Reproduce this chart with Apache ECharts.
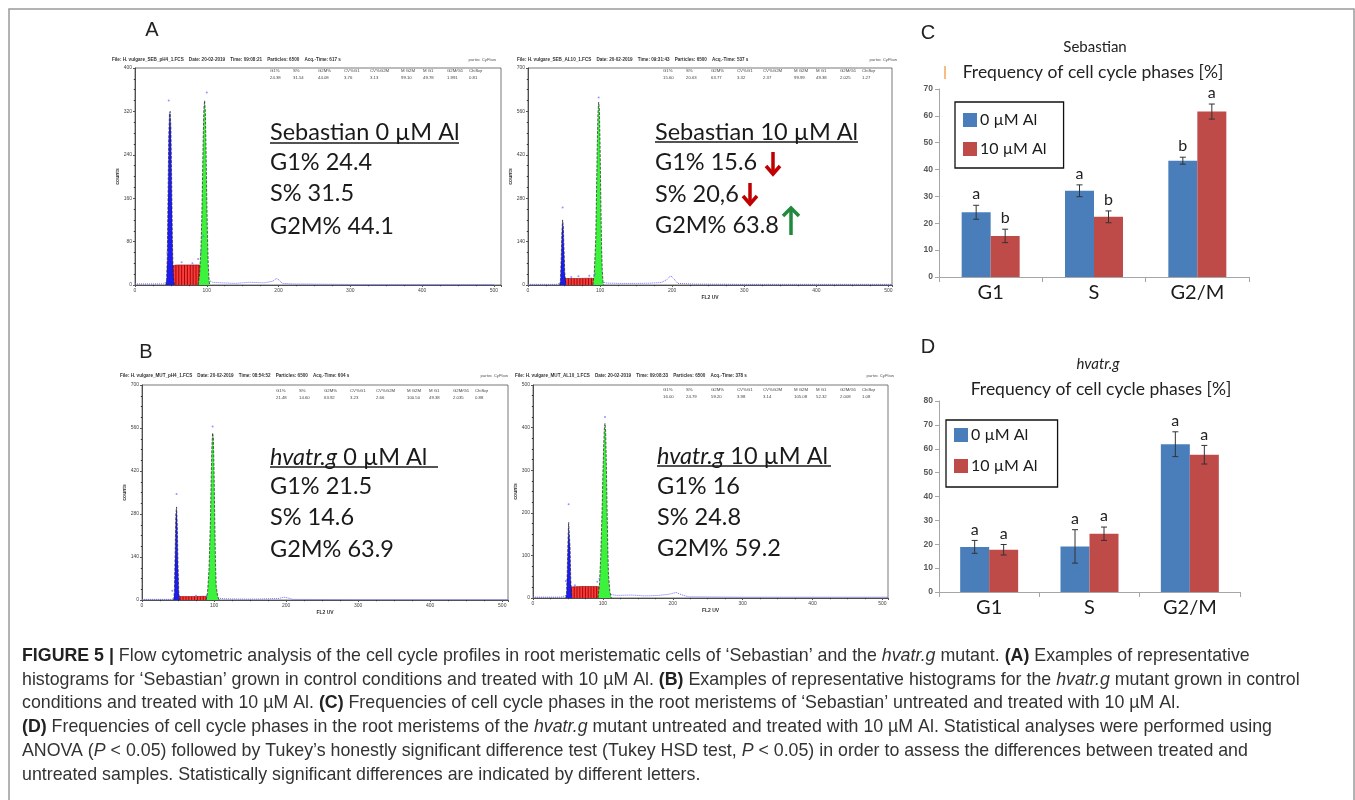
<!DOCTYPE html>
<html><head><meta charset="utf-8">
<script src="https://cdn.jsdelivr.net/npm/echarts@6/dist/echarts.min.js"></script>
<style>html,body{margin:0;padding:0;background:#fff}#c{width:1355px;height:800px}</style>
</head><body><div id="c"></div>
<script>
// ================= DATA =================
// Bar charts (C: Sebastian, D: hvatr.g)
const phaseCategories = ['G1', 'S', 'G2/M'];
const seriesNames = ['0 µM Al', '10 µM Al'];
const sebControl = [24.1, 32.1, 43.3];
const sebControlErr = [2.6, 2.2, 1.3];
const sebAl = [15.3, 22.4, 61.6];
const sebAlErr = [2.5, 2.2, 2.8];
const sebControlLetters = ['a', 'a', 'b'];
const sebAlLetters = ['b', 'b', 'a'];
const mutControl = [18.9, 19.1, 61.9];
const mutControlErr = [2.7, 7.0, 5.2];
const mutAl = [17.7, 24.4, 57.5];
const mutAlErr = [2.2, 2.8, 3.9];
const mutControlLetters = ['a', 'a', 'a'];
const mutAlLetters = ['a', 'a', 'a'];

// Histograms: [channel, counts]
const g1A1 = [[43,0],[44,10],[45,50],[46,160],[47,270],[48,315],[49,320],[50,290],[51,200],[52,90],[53,30],[54,8],[55,0]];
const g2A1 = [[88,0],[90,20],[92,70],[93,120],[94,190],[95,270],[96,325],[97,340],[98,320],[99,250],[100,160],[101,90],[102,40],[103,14],[104,0]];
const sA1 = [[48,0],[50,30],[52,36],[60,37],[70,37],[80,37],[90,37],[93,33],[96,22],[99,8],[101,0]];
const hatchA1 = [[53,36],[57,37],[61,37],[65,37],[69,37],[73,37],[77,37],[81,37],[85,37],[89,37],[93,33],[97,18]];
const rawA1 = [[0,2],[20,2],[40,2],[43,6],[104,8],[108,5],[120,4],[140,3],[160,5],[180,4],[192,7],[197,12],[201,9],[205,3],[220,2],[300,1],[400,1],[500,1]];
const dotsA1 = [[47,340],[100,355],[45,60],[92,60],[88,48],[95,90],[65,42],[80,40]];

const g1A2 = [[44,0],[45,15],[46,80],[47,170],[48,210],[49,190],[50,110],[51,40],[52,12],[53,0]];
const g2A2 = [[90,0],[92,40],[94,150],[95,290],[96,440],[97,550],[98,590],[99,570],[100,450],[101,280],[102,130],[103,50],[104,12],[105,0]];
const sA2 = [[47,0],[49,18],[52,21],[70,21],[88,22],[92,20],[95,14],[98,5],[100,0]];
const hatchA2 = [[52,21],[56,21],[60,21],[64,21],[68,21],[72,21],[76,21],[80,21],[84,22],[88,22],[92,20],[96,10]];
const rawA2 = [[0,2],[40,2],[44,5],[104,9],[110,6],[130,5],[150,5],[170,6],[185,8],[193,18],[198,30],[203,18],[208,5],[230,3],[300,2],[400,2],[505,2]];
const dotsA2 = [[48,250],[98,605],[93,35],[70,28],[60,26],[85,30]];

const g1B1 = [[44,0],[45,30],[46,150],[47,280],[48,303],[49,240],[50,110],[51,30],[52,0]];
const g2B1 = [[89,0],[91,25],[93,100],[95,260],[96,390],[97,500],[98,544],[99,530],[100,420],[101,260],[102,120],[103,45],[105,12],[107,0]];
const sB1 = [[47,0],[49,10],[52,11],[70,11],[88,12],[93,10],[96,4],[98,0]];
const hatchB1 = [[53,11],[57,11],[61,11],[65,11],[69,11],[73,11],[77,11],[81,11],[85,12],[89,12],[93,10]];
const rawB1 = [[0,2],[40,2],[44,4],[106,6],[115,4],[140,3],[160,3],[190,5],[197,9],[202,7],[210,2],[300,1],[400,1],[508,1]];
const dotsB1 = [[48,345],[98,565],[42,30],[90,15],[75,14]];

const g1B2 = [[47,0],[48,12],[49,60],[50,130],[51,178],[52,175],[53,120],[54,45],[55,12],[56,0]];
const g2B2 = [[93,0],[95,30],[97,100],[99,215],[100,290],[101,350],[102,395],[103,410],[104,390],[105,310],[106,210],[107,120],[108,55],[110,15],[112,0]];
const sB2 = [[49,0],[51,22],[54,26],[70,27],[90,27],[98,26],[102,20],[106,8],[109,0]];
const hatchB2 = [[55,26],[59,27],[63,27],[67,27],[71,27],[75,27],[79,27],[83,27],[87,27],[91,27],[95,26],[99,24],[103,16]];
const rawB2 = [[0,2],[40,2],[47,6],[112,8],[120,6],[140,7],[160,5],[180,6],[195,9],[205,13],[212,8],[222,3],[300,2],[400,2],[508,2]];
const dotsB2 = [[51,220],[103,425],[47,40],[95,45],[92,38],[60,30]];

// Histogram axis tick settings
const histYMax = [400, 700, 700, 500];
const histYStep = [80, 140, 140, 100];
const histXMax = [510, 505, 508, 508];

// Histogram header / stats texts
const histFiles = [
  'File: H. vulgare_SEB_pH4_1.FCS    Date: 20-02-2019    Time: 09:08:21    Particles: 6500    Acq.-Time: 617 s',
  'File: H. vulgare_SEB_AL10_1.FCS    Date: 20-02-2019    Time: 09:31:43    Particles: 6500    Acq.-Time: 537 s',
  'File: H. vulgare_MUT_pH4_1.FCS    Date: 20-02-2019    Time: 08:54:52    Particles: 6500    Acq.-Time: 604 s',
  'File: H. vulgare_MUT_AL10_1.FCS    Date: 20-02-2019    Time: 09:08:33    Particles: 6500    Acq.-Time: 378 s'
];
const statHeaders = ['G1%', 'S%', 'G2M%', 'CV%G1', 'CV%G2M', 'M G2M', 'M G1', 'G2M/G1', 'ChiSqr'];
const statsA1 = ['24.38', '31.54', '44.08', '3.76', '3.13', '99.10', '49.78', '1.991', '0.81'];
const statsA2 = ['15.60', '20.63', '63.77', '3.32', '2.37', '99.99', '49.38', '2.025', '1.27'];
const statsB1 = ['21.48', '14.60', '63.92', '3.23', '2.66', '100.50', '49.38', '2.035', '0.88'];
const statsB2 = ['16.00', '24.79', '59.20', '3.98', '3.14', '105.08', '52.32', '2.008', '1.08'];

// Overlay texts on histograms
const histTitleLabels = ['Sebastian 0 µM Al', 'Sebastian 10 µM Al', ' 0 µM Al', ' 10 µM Al'];
const histLinesA1 = ['G1% 24.4', 'S% 31.5', 'G2M% 44.1'];
const histLinesA2 = ['G1% 15.6', 'S% 20,6', 'G2M% 63.8'];
const histLinesB1 = ['G1% 21.5', 'S% 14.6', 'G2M% 63.9'];
const histLinesB2 = ['G1% 16', 'S% 24.8', 'G2M% 59.2'];

const captionLines = [
  '{b|FIGURE 5 |} Flow cytometric analysis of the cell cycle profiles in root meristematic cells of ‘Sebastian’ and the {i|hvatr.g} mutant. {b|(A)} Examples of representative',
  'histograms for ‘Sebastian’ grown in control conditions and treated with 10 µM Al. {b|(B)} Examples of representative histograms for the {i|hvatr.g} mutant grown in control',
  'conditions and treated with 10 µM Al. {b|(C)} Frequencies of cell cycle phases in the root meristems of ‘Sebastian’ untreated and treated with 10 µM Al.',
  '{b|(D)} Frequencies of cell cycle phases in the root meristems of the {i|hvatr.g} mutant untreated and treated with 10 µM Al. Statistical analyses were performed using',
  'ANOVA ({i|P} < 0.05) followed by Tukey’s honestly significant difference test (Tukey HSD test, {i|P} < 0.05) in order to assess the differences between treated and',
  'untreated samples. Statistically significant differences are indicated by different letters.'
];

// ================= BUILD =================
const BLUE = '#4a7ebb', RED = '#be4b48';
const histGrids = [
  {left: 135, top: 68, width: 366, height: 217},
  {left: 528, top: 68, width: 364, height: 217},
  {left: 142, top: 385, width: 366, height: 215},
  {left: 533, top: 385, width: 355, height: 213}
];
const barGrids = [
  {left: 939, top: 89, width: 310, height: 188},
  {left: 939, top: 401, width: 301, height: 191}
];
const grid = [];
histGrids.forEach(g => grid.push(Object.assign({show: true, borderColor: '#555', borderWidth: 0.8, backgroundColor: '#fff'}, g)));
barGrids.forEach(g => grid.push(Object.assign({show: false}, g)));

const xAxis = [], yAxis = [], series = [];
const xNames = ['', 'FL2 UV', 'FL2 UV', 'FL2 UV'];
for (let k = 0; k < 4; k++) {
  xAxis.push({type: 'value', gridIndex: k, min: 0, max: histXMax[k], interval: 100,
    name: xNames[k], nameLocation: 'middle', nameGap: 10, nameTextStyle: {fontSize: 5, fontWeight: 'bold', color: '#333'},
    axisLine: {lineStyle: {color: '#333', width: 0.8}}, axisTick: {show: true, length: 2, lineStyle: {color: '#555'}},
    minorTick: {show: true, splitNumber: 4, length: 1.2}, splitLine: {show: false},
    axisLabel: {fontSize: 5, color: '#444', margin: 3, showMaxLabel: true,
      formatter: v => (v % 100 === 0 && v <= 500) ? String(v) : ''}});
  yAxis.push({type: 'value', gridIndex: k, min: 0, max: histYMax[k], interval: histYStep[k],
    name: 'counts', nameLocation: 'middle', nameGap: 15, nameRotate: 90, nameTextStyle: {fontSize: 5, fontWeight: 'bold', color: '#333'},
    axisLine: {show: true, lineStyle: {color: '#333', width: 0.8}}, axisTick: {show: true, length: 2, lineStyle: {color: '#555'}},
    minorTick: {show: true, splitNumber: 4, length: 1.2}, splitLine: {show: false},
    axisLabel: {fontSize: 5, color: '#444', margin: 3, showMaxLabel: true}});
}
[[70, 10], [80, 10]].forEach((m, j) => {
  xAxis.push({type: 'category', gridIndex: 4 + j, data: phaseCategories,
    axisLine: {lineStyle: {color: '#a6a6a6', width: 1}}, axisTick: {show: true, length: 5, lineStyle: {color: '#a6a6a6'}},
    axisLabel: {fontSize: 20, color: '#1a1a1a', margin: 6, fontFamily: 'Lato'}});
  yAxis.push({type: 'value', gridIndex: 4 + j, min: 0, max: m[0], interval: m[1],
    axisLine: {show: true, lineStyle: {color: '#a6a6a6', width: 1}}, axisTick: {show: true, length: 4, lineStyle: {color: '#a6a6a6'}},
    splitLine: {show: false},
    axisLabel: {fontSize: 8.5, color: '#595959', fontWeight: 'bold', margin: 6, fontFamily: 'Liberation Sans'}});
});

const histSets = [
  [g1A1, g2A1, sA1, hatchA1, rawA1, dotsA1],
  [g1A2, g2A2, sA2, hatchA2, rawA2, dotsA2],
  [g1B1, g2B1, sB1, hatchB1, rawB1, dotsB1],
  [g1B2, g2B2, sB2, hatchB2, rawB2, dotsB2]
];
histSets.forEach((s, k) => {
  const base = {xAxisIndex: k, yAxisIndex: k, silent: true, animation: false};
  series.push(Object.assign({type: 'line', data: s[4], symbol: 'none', z: 1,
    lineStyle: {color: '#6b6bff', width: 1, type: 'dotted'}}, base));
  series.push(Object.assign({type: 'line', data: s[2], symbol: 'none', z: 2,
    lineStyle: {color: '#8a1010', width: 0.6}, areaStyle: {color: '#ff3a3a', opacity: 1}}, base));
  series.push(Object.assign({type: 'bar', data: s[3], barWidth: 1, z: 3,
    itemStyle: {color: '#9a0d0d'}}, base));
  series.push(Object.assign({type: 'line', data: s[0], symbol: 'none', z: 4,
    lineStyle: {color: '#222', width: 0.7, type: 'dashed'}, areaStyle: {color: '#1c1cf0', opacity: 1}}, base));
  series.push(Object.assign({type: 'line', data: s[1], symbol: 'none', z: 4,
    lineStyle: {color: '#222', width: 0.7, type: 'dashed'}, areaStyle: {color: '#3df23d', opacity: 1}}, base));
  series.push(Object.assign({type: 'scatter', data: s[5], symbolSize: 2, z: 5,
    itemStyle: {color: '#7a7aff'}}, base));
});

function errSeries(gi, vals, errs, letters, side) {
  return {
    type: 'custom', xAxisIndex: gi, yAxisIndex: gi, z: 10, silent: true, animation: false,
    data: vals.map((v, i) => [i, v, errs[i]]),
    renderItem: function (params, api) {
      const c = api.value(0), v = api.value(1), e = api.value(2);
      const top = api.coord([c, v + e]), bot = api.coord([c, v - e]);
      const x = top[0] + side * 14.5;
      const ls = {stroke: '#333', lineWidth: 1};
      return {type: 'group', children: [
        {type: 'line', shape: {x1: x, y1: top[1], x2: x, y2: bot[1]}, style: ls},
        {type: 'line', shape: {x1: x - 3, y1: top[1], x2: x + 3, y2: top[1]}, style: ls},
        {type: 'line', shape: {x1: x - 3, y1: bot[1], x2: x + 3, y2: bot[1]}, style: ls},
        {type: 'text', x: x, y: top[1] - 3, style: {text: letters[params.dataIndex], fontSize: 16, fontFamily: 'Lato',
          fill: '#222', textAlign: 'center', textVerticalAlign: 'bottom', align: 'center', verticalAlign: 'bottom'}}
      ]};
    }
  };
}
[[sebControl, sebAl, sebControlErr, sebAlErr, sebControlLetters, sebAlLetters],
 [mutControl, mutAl, mutControlErr, mutAlErr, mutControlLetters, mutAlLetters]].forEach((d, j) => {
  const gi = 4 + j;
  series.push({type: 'bar', name: seriesNames[0], xAxisIndex: gi, yAxisIndex: gi, data: d[0], barWidth: 29, barGap: '0%',
    itemStyle: {color: BLUE}, silent: true, animation: false});
  series.push({type: 'bar', name: seriesNames[1], xAxisIndex: gi, yAxisIndex: gi, data: d[1], barWidth: 29, barGap: '0%',
    itemStyle: {color: RED}, silent: true, animation: false});
  series.push(errSeries(gi, d[0], d[2], d[4], -1));
  series.push(errSeries(gi, d[1], d[3], d[5], 1));
});

// ---------- graphic elements ----------
const G = [];
function T(x, y, text, o) {
  o = o || {};
  const st = Object.assign({text: text, fontSize: 12, fontFamily: 'Liberation Sans', fill: '#222',
    textAlign: o.align || 'left', textVerticalAlign: o.va || 'middle', align: o.align || 'left', verticalAlign: o.va || 'middle'}, o.style || {});
  G.push({type: 'text', x: x, y: y, z: 50, silent: true, style: st});
}
function L(x1, y1, x2, y2, color, w) {
  G.push({type: 'line', z: 50, silent: true, shape: {x1: x1, y1: y1, x2: x2, y2: y2}, style: {stroke: color, lineWidth: w}});
}
function P(points, color, w) {
  G.push({type: 'polyline', z: 50, silent: true, shape: {points: points}, style: {stroke: color, lineWidth: w, fill: null, lineJoin: 'miter'}});
}
// frame
G.push({type: 'rect', z: 0, silent: true, shape: {x: 9, y: 9, width: 1345, height: 800}, style: {fill: 'none', stroke: '#9a9a9a', lineWidth: 1.5}});

// panel letters
T(152, 30, 'A', {align: 'center', style: {fontSize: 20}});
T(146, 352, 'B', {align: 'center', style: {fontSize: 20}});
T(928, 33, 'C', {align: 'center', style: {fontSize: 20}});
T(928, 347, 'D', {align: 'center', style: {fontSize: 20}});

// histogram headers
const headerPos = [[112, 60], [517, 60], [120, 376], [515, 376]];
headerPos.forEach((p, k) => {
  T(p[0], p[1], histFiles[k], {style: {fontSize: 4.6, fontWeight: 'bold', fill: '#333'}});
});
T(496, 60, 'partec CyFlow', {align: 'right', style: {fontSize: 4.3, fill: '#555'}});
T(897, 60, 'partec CyFlow', {align: 'right', style: {fontSize: 4.3, fill: '#555'}});
T(508, 376, 'partec CyFlow', {align: 'right', style: {fontSize: 4.3, fill: '#555'}});
T(894, 376, 'partec CyFlow', {align: 'right', style: {fontSize: 4.3, fill: '#555'}});
// stats
const statOffsets = [0, 23, 48, 74, 100, 131, 153, 177, 199];
const statPos = [[270, 71, statsA1], [663, 71, statsA2], [276, 391, statsB1], [663, 390, statsB2]];
statPos.forEach(sp => {
  statHeaders.forEach((h, i) => {
    T(sp[0] + statOffsets[i], sp[1], h, {style: {fontSize: 4.3, fill: '#444'}});
    T(sp[0] + statOffsets[i], sp[1] + 7, sp[2][i], {style: {fontSize: 4.3, fill: '#444'}});
  });
});

// overlay big texts
const BIG = {fontSize: 23.5, fontFamily: 'Lato', fill: '#1a1a1a'};
T(270, 132, histTitleLabels[0], {style: BIG}); L(270, 143, 459, 143, '#1a1a1a', 1.4);
histLinesA1.forEach((s, i) => T(270, [162, 193, 226][i], s, {style: BIG}));
T(655, 132, histTitleLabels[1], {style: BIG}); L(655, 142, 858, 142, '#1a1a1a', 1.4);
histLinesA2.forEach((s, i) => T(655, [162, 194, 225][i], s, {style: BIG}));
const RICHBIG = {i: {fontSize: 23.5, fontFamily: 'Lato', fontStyle: 'italic', fill: '#1a1a1a'}, n: {fontSize: 23.5, fontFamily: 'Lato', fill: '#1a1a1a'}};
T(270, 457, '{i|hvatr.g}{n|' + histTitleLabels[2] + '}', {style: Object.assign({}, BIG, {rich: RICHBIG})}); L(270, 467, 438, 467, '#1a1a1a', 1.4);
histLinesB1.forEach((s, i) => T(270, [486, 517, 549][i], s, {style: BIG}));
T(657, 456, '{i|hvatr.g}{n|' + histTitleLabels[3] + '}', {style: Object.assign({}, BIG, {rich: RICHBIG})}); L(657, 466, 831, 466, '#1a1a1a', 1.4);
histLinesB2.forEach((s, i) => T(657, [486, 517, 548][i], s, {style: BIG}));
// arrows
const AR = '#c00000', AG = '#1f8a3b';
L(773, 152, 773, 174, AR, 3.5); P([[766, 166], [773, 174], [780, 166]], AR, 3.5);
L(750, 183, 750, 204, AR, 3.5); P([[743, 196], [750, 204], [757, 196]], AR, 3.5);
L(791, 235, 791, 208, AG, 3.5); P([[783, 216], [791, 208], [799, 216]], AG, 3.5);

// bar chart titles
T(1095, 47, 'Sebastian', {align: 'center', style: {fontSize: 15, fontFamily: 'Lato', fill: '#222'}});
T(1093, 72, 'Frequency of cell cycle phases [%]', {align: 'center', style: {fontSize: 17.5, fontFamily: 'Lato', fill: '#222'}});
L(945, 66, 945, 79, '#f2a65a', 1.5);
T(1098, 364, 'hvatr.g', {align: 'center', style: {fontSize: 15, fontFamily: 'Lato', fontStyle: 'italic', fill: '#222'}});
T(1101, 389, 'Frequency of cell cycle phases [%]', {align: 'center', style: {fontSize: 17.5, fontFamily: 'Lato', fill: '#222'}});

// caption
const CF = 'Liberation Sans';
const CFS = 17.8;
const capRich = {
  b: {fontSize: CFS, fontFamily: CF, fontWeight: 'bold', fill: '#222'},
  i: {fontSize: CFS, fontFamily: CF, fontStyle: 'italic', fill: '#333'}
};
const capY = [656, 680, 703, 727, 751, 775];
captionLines.forEach((s, i) => {
  T(22, capY[i], s, {style: {fontSize: CFS, fontFamily: CF, fill: '#333', rich: capRich}});
});

const option = {
  animation: false,
  backgroundColor: '#fff',
  grid: grid,
  xAxis: xAxis,
  yAxis: yAxis,
  legend: [
    {data: seriesNames, left: 955, top: 102, orient: 'vertical', itemWidth: 14, itemHeight: 14, itemGap: 13, icon: 'rect',
     borderColor: '#111', borderWidth: 1.3, padding: [10, 17, 11, 8], selectedMode: false,
     textStyle: {fontSize: 16, fontFamily: 'Lato', color: '#1a1a1a', padding: [0, 0, 0, -2]}},
    {data: seriesNames, left: 946, top: 420, orient: 'vertical', itemWidth: 14, itemHeight: 14, itemGap: 15, icon: 'rect',
     borderColor: '#111', borderWidth: 1.3, padding: [7, 20, 13, 8], selectedMode: false,
     textStyle: {fontSize: 16, fontFamily: 'Lato', color: '#1a1a1a', padding: [0, 0, 0, -2]}}
  ],
  series: series,
  graphic: {elements: G}
};
const chart = echarts.init(document.getElementById('c'), null, {renderer: 'canvas'});
chart.setOption(option);
</script>
</body></html>
